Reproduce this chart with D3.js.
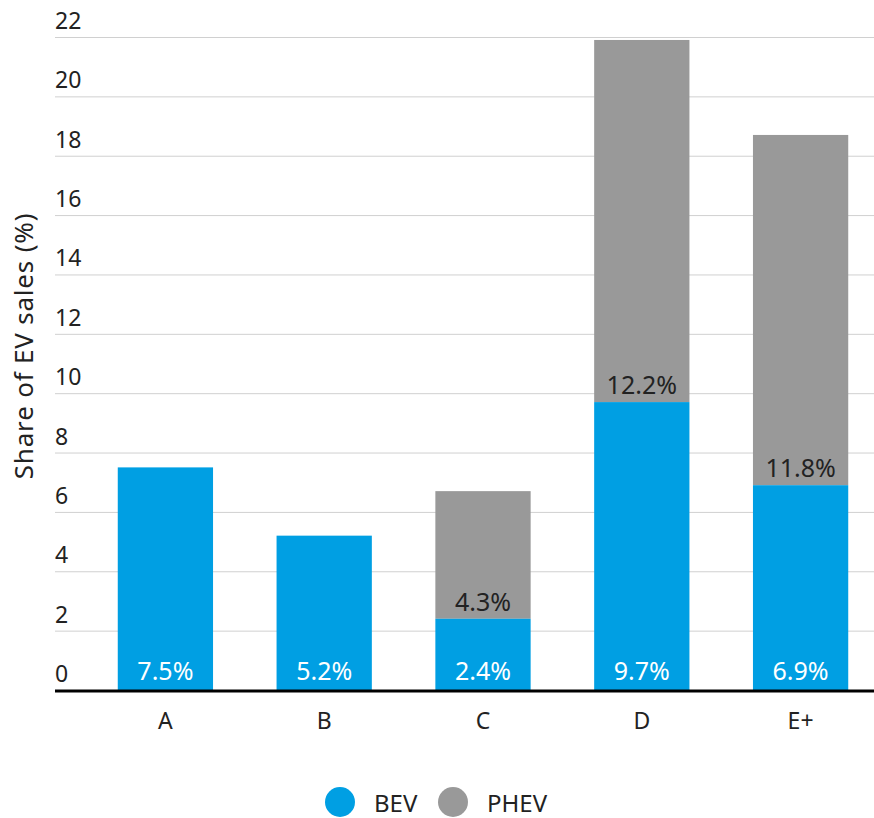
<!DOCTYPE html>
<html>
<head>
<meta charset="utf-8">
<script src="https://cdn.jsdelivr.net/npm/d3@7"></script>
<style>
  body { margin: 0; background: #fff; }
  svg text { font-family: "Noto Sans", "Open Sans", sans-serif; }
</style>
</head>
<body>
<svg id="chart" width="874" height="818"></svg>
<script>
// data
const categories = ["A", "B", "C", "D", "E+"];
const bev = [7.5, 5.2, 2.4, 9.7, 6.9];
const phev = [0, 0, 4.3, 12.2, 11.8];
const yTicks = [0, 2, 4, 6, 8, 10, 12, 14, 16, 18, 20, 22];
const seriesNames = ["BEV", "PHEV"];
const seriesColors = ["#009fe3", "#999999"];

let svg = d3.select("#chart"),
    left = 55,
    right = 874,
    y = d3.scaleLinear().domain([0, 22]).range([690, 37]),
    x = d3.scaleBand().domain(categories).range([86, 880]).paddingInner(0.4).paddingOuter(0.2);

// gridlines + tick labels (labels sit above each line)
let grid = svg.append("g").attr("class", "grid");
grid.selectAll("line")
    .data(yTicks.filter(d => d > 0))
    .enter().append("line")
    .attr("x1", left).attr("x2", right)
    .attr("y1", d => y(d) + 0.5).attr("y2", d => y(d) + 0.5)
    .attr("stroke", "#d0d0d0").attr("stroke-width", 1);
grid.selectAll("text")
    .data(yTicks)
    .enter().append("text")
    .attr("x", left)
    .attr("y", d => y(d) - 8)
    .attr("font-size", 23)
    .attr("fill", "#222")
    .text(d => d);

// stacked bars
let rows = categories.map((c, i) => ({cat: c, bev: bev[i], phev: phev[i]}));
let bars = svg.append("g").attr("class", "bars");
bars.selectAll("rect.phev")
    .data(rows.filter(d => d.phev > 0))
    .enter().append("rect")
    .attr("class", "phev")
    .attr("x", d => x(d.cat))
    .attr("width", x.bandwidth())
    .attr("y", d => y(d.bev + d.phev))
    .attr("height", d => y(d.bev) - y(d.bev + d.phev))
    .attr("fill", seriesColors[1]);
bars.selectAll("rect.bev")
    .data(rows)
    .enter().append("rect")
    .attr("class", "bev")
    .attr("x", d => x(d.cat))
    .attr("width", x.bandwidth())
    .attr("y", d => y(d.bev))
    .attr("height", d => y(0) - y(d.bev))
    .attr("fill", seriesColors[0]);

// value labels
bars.selectAll("text.bev-label")
    .data(rows)
    .enter().append("text")
    .attr("class", "bev-label")
    .attr("x", d => x(d.cat) + x.bandwidth() / 2)
    .attr("y", y(0) - 10)
    .attr("text-anchor", "middle")
    .attr("font-size", 25)
    .attr("fill", "#fff")
    .text(d => d.bev.toFixed(1) + "%");
bars.selectAll("text.phev-label")
    .data(rows.filter(d => d.phev > 0))
    .enter().append("text")
    .attr("class", "phev-label")
    .attr("x", d => x(d.cat) + x.bandwidth() / 2)
    .attr("y", d => y(d.bev) - 8)
    .attr("text-anchor", "middle")
    .attr("font-size", 25)
    .attr("fill", "#222")
    .text(d => d.phev.toFixed(1) + "%");

// baseline
svg.append("line")
    .attr("x1", left).attr("x2", right)
    .attr("y1", y(0) + 1).attr("y2", y(0) + 1)
    .attr("stroke", "#000").attr("stroke-width", 3);

// category labels
svg.append("g").selectAll("text")
    .data(categories)
    .enter().append("text")
    .attr("x", d => x(d) + x.bandwidth() / 2)
    .attr("y", 729)
    .attr("text-anchor", "middle")
    .attr("font-size", 23)
    .attr("fill", "#222")
    .text(d => d);

// y axis title
svg.append("text")
    .attr("transform", "translate(33,346) rotate(-90)")
    .attr("text-anchor", "middle")
    .attr("font-size", 26)
    .attr("letter-spacing", 0.8)
    .attr("fill", "#222")
    .text("Share of EV sales (%)");

// legend
let legend = svg.append("g").attr("class", "legend");
let legendX = [340, 453];
seriesNames.forEach((name, i) => {
    legend.append("circle")
        .attr("cx", legendX[i]).attr("cy", 802).attr("r", 15)
        .attr("fill", seriesColors[i]);
    legend.append("text")
        .attr("x", legendX[i] + 34).attr("y", 812)
        .attr("font-size", 24)
        .attr("fill", "#222")
        .text(name);
});
</script>
</body>
</html>
